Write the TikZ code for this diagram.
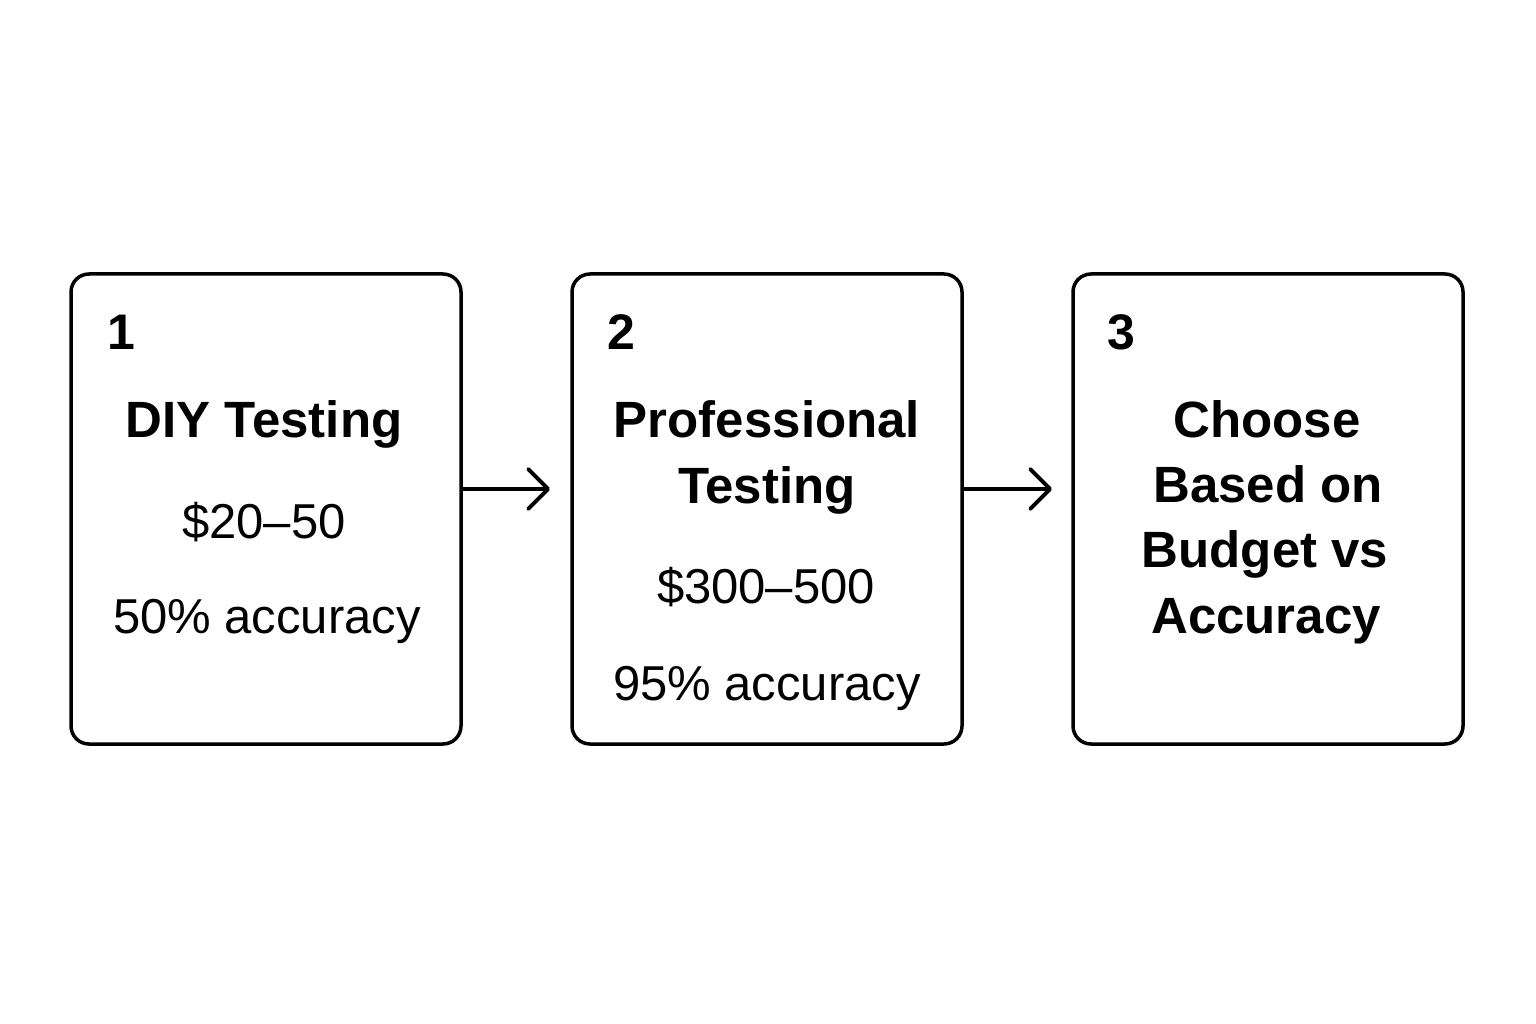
\documentclass[tikz,border=0pt]{standalone}
\usepackage{fontspec}
\setmainfont{Liberation Sans}
\usetikzlibrary{arrows.meta}
\begin{document}
\begin{tikzpicture}[x=1pt,y=-1pt,
  stepbox/.style={draw=black,line width=3.5pt,rounded corners=18pt},
  num/.style={anchor=base west,inner sep=0pt,font=\fontsize{50}{60}\selectfont\bfseries},
  ttl/.style={anchor=base,inner sep=0pt,font=\fontsize{51}{60}\selectfont\bfseries},
  txt/.style={anchor=base,inner sep=0pt,font=\fontsize{49}{58}\selectfont},
  conn/.style={line width=3.8pt,-{Straight Barb[length=20pt,width=40pt,line width=3.8pt,round]}}]
\useasboundingbox (0,0) rectangle (1536,1024);
\fill[white] (0,0) rectangle (1536,1024);
% boxes
\draw[stepbox] (71,274) rectangle (461,744);
\draw[stepbox] (572,274) rectangle (962,744);
\draw[stepbox] (1073,274) rectangle (1463,744);
\coordinate (b1) at (461,489);
\coordinate (b2r) at (962,489);
\coordinate (t1) at (550,489);
\coordinate (t2) at (1052,489);
\draw[conn] (b1) -- (t1);
\draw[conn] (b2r) -- (t2);
% box 1
\node[num] (n1) at (107,349) {1};
\node[ttl] (a1) at (264,437) {DIY Testing};
\node[txt] (a2) at (264,538) {\$20–50};
\node[txt] (a3) at (267,633) {50\% accuracy};
% box 2
\node[num] (n2) at (607,349) {2};
\node[ttl] (c1) at (767,437) {Professional};
\node[ttl] (c2) at (767,503) {Testing};
\node[txt] (c3) at (766,603) {\$300–500};
\node[txt] (c4) at (767,700) {95\% accuracy};
% box 3
\node[num] (n3) at (1107,349) {3};
\node[ttl] (d1) at (1267,437) {Choose};
\node[ttl] (d2) at (1268,502) {Based on};
\node[ttl] (d3) at (1265,567) {Budget vs};
\node[ttl] (d4) at (1266,633) {Accuracy};
\end{tikzpicture}
\end{document}
